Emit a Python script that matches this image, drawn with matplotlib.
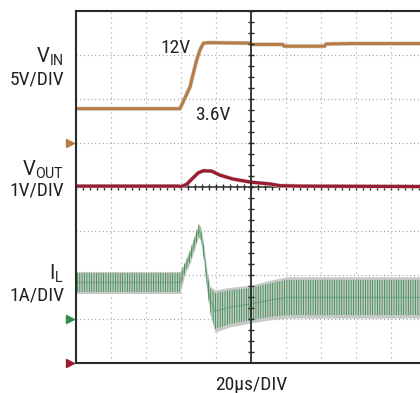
import numpy as np
import matplotlib
matplotlib.use('Agg')
from matplotlib import pyplot as plt

# scope traces, in divisions
# x: 0..10 div (20us/div), y: 0..8 div from the bottom of the graticule
vin_t = [0, 2.97, 3.11, 3.26, 3.35, 3.45, 3.54, 3.64, 3.80, 4.97, 5.03, 5.91, 5.94, 7.11, 7.14, 7.83, 10]
vin_v = [5.78, 5.78, 6.02, 6.28, 6.58, 6.89, 7.11, 7.27, 7.28, 7.27, 7.24, 7.24, 7.20, 7.20, 7.25, 7.26, 7.26]

vout_t = [0, 2.91, 3.0, 3.16, 3.31, 3.49, 3.64, 3.88, 4.11, 4.49, 5.0, 5.54, 5.83, 6.4, 10]
vout_v = [4.02, 4.02, 4.01, 4.06, 4.18, 4.32, 4.37, 4.36, 4.27, 4.18, 4.11, 4.07, 4.03, 4.02, 4.01]

# inductor current: middle of the ripple band and half its height
il_t = [0, 2.97, 3.11, 3.26, 3.40, 3.50, 3.57, 3.66, 3.74, 3.83, 3.97, 4.40, 5.0, 5.54, 6.03, 10]
il_mid = [1.83, 1.83, 2.16, 2.43, 2.77, 3.02, 2.93, 2.46, 1.89, 1.43, 1.18, 1.27, 1.34, 1.43, 1.49, 1.49]
il_ripple = [0.25, 0.25, 0.14, 0.16, 0.16, 0.16, 0.16, 0.18, 0.23, 0.32, 0.48, 0.45, 0.43, 0.45, 0.47, 0.47]

# channel labels (name, scale) and ground markers
ch_names = [r'$\mathrm{V_{IN}}$', r'$\mathrm{V_{OUT}}$', r'$\mathrm{I_L}$']
ch_scales = ['5V/DIV', '1V/DIV', '1A/DIV']
ch_colors = ['#b97c45', '#9b1b30', '#348c4a']
ground_levels = [5, 0, 1]

W, H = 420, 393
FONT = ['Liberation Sans Narrow', 'Roboto Condensed', 'Roboto', 'DejaVu Sans']

plt.rcParams['font.family'] = FONT
plt.rcParams['mathtext.fontset'] = 'custom'
plt.rcParams['mathtext.rm'] = 'Roboto'
plt.rcParams['mathtext.it'] = 'Roboto'
plt.rcParams['hatch.linewidth'] = 0.6

fig = plt.figure(figsize=(W / 100, H / 100), dpi=100)
ax = fig.add_axes([76 / W, 30 / H, 350 / W, 352 / H])
ax.set_xlim(0, 10)
ax.set_ylim(0, 8)
ax.set_xticks([])
ax.set_yticks([])
for s in ['left', 'top', 'bottom']:
    ax.spines[s].set_color('#2a2a2a')
    ax.spines[s].set_linewidth(1.5)
ax.spines['right'].set_visible(False)

# graticule
grid_c = '#9a9a9a'
for gx in range(1, 10):
    if gx != 5:
        ax.axvline(gx, color=grid_c, lw=0.9, dashes=(0.8, 3.2), zorder=1)
for gy in range(1, 8):
    if gy != 4:
        ax.axhline(gy, color=grid_c, lw=0.9, dashes=(0.8, 2.2), zorder=1)

ax.axhline(4, color='#2a2a2a', lw=1.1, zorder=1.5)
xt = np.arange(0, 10.01, 0.2)
ax.plot(xt, np.full_like(xt, 4), ls='none', marker='|', ms=4, mew=1, color='#2a2a2a', zorder=1.5)

# traces
ax.plot(vin_t, vin_v, color='#cfcfcf', lw=3.0, zorder=2)
ax.plot(vin_t, vin_v, color=ch_colors[0], lw=2.2, zorder=2.1)
ax.plot(vout_t, vout_v, color='#cfcfcf', lw=3.0, zorder=2)
ax.plot(vout_t, vout_v, color=ch_colors[1], lw=2.3, zorder=2.1)

mid = np.array(il_mid)
rip = np.array(il_ripple)
ax.fill_between(il_t, mid - rip, mid + rip, color='#c6cac6', lw=0, zorder=2)
ax.fill_between(il_t, mid - 0.85 * rip, mid + 0.85 * rip, facecolor='none',
                edgecolor=ch_colors[2], hatch='|' * 7, lw=0, zorder=2.1)
ax.plot(il_t, mid, color=ch_colors[2], lw=0.9, alpha=0.4, zorder=2.2)

# vertical center line on top
ax.axvline(5, color='#2a2a2a', lw=1.3, zorder=3)
yt = np.arange(0, 8.01, 0.25)
ax.plot(np.full_like(yt, 5), yt, ls='none', marker='_', ms=4, mew=1, color='#2a2a2a', zorder=3)

# ground markers
for lvl, c in zip(ground_levels, ch_colors):
    ax.plot([-0.17], [lvl], marker='>', ms=6, color=c, clip_on=False, zorder=4)

# labels, placed in pixels
def px_text(x, y, s, ha='right', size=14):
    fig.text(x / W, 1 - y / H, s, ha=ha, va='baseline', fontsize=size,
             color='#222222', fontstretch='condensed')

name_base = [63, 176, 280]
scale_base = [84.5, 195, 301]
for n, sc, yb1, yb2 in zip(ch_names, ch_scales, name_base, scale_base):
    px_text(64, yb1, n, size=14.5)
    px_text(64, yb2, sc)

px_text(176, 53, '12V', ha='center')
px_text(213, 119.5, '3.6V', ha='center')
px_text(251, 390, '20µs/DIV', ha='center')

fig.savefig('out.png', dpi=100)
